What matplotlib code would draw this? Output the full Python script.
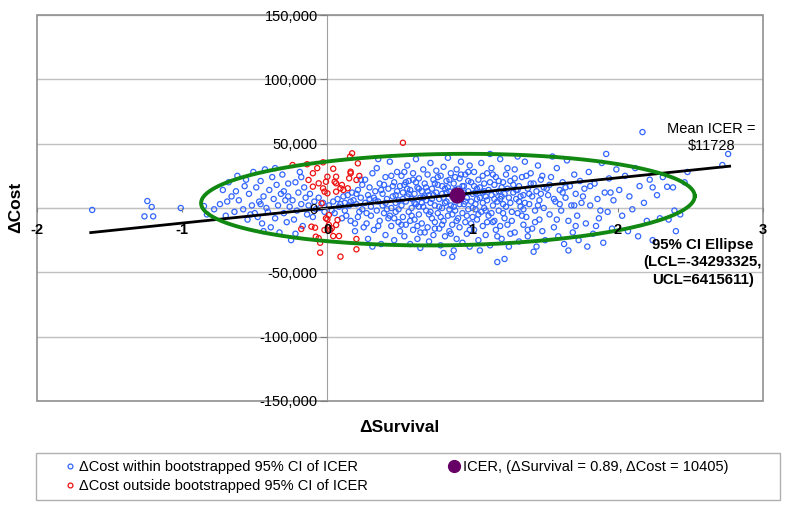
import numpy as np
import matplotlib
matplotlib.use("Agg")
import matplotlib.pyplot as plt
from matplotlib.patches import Rectangle
from matplotlib.lines import Line2D

plt.rcParams['font.family'] = ['Liberation Sans', 'DejaVu Sans']

# bootstrap replicates (delta survival, delta cost in $1000)
blue_far_left = [(-1.62, -1.5), (-1.24, 5.4), (-1.21, 0.8), (-1.26, -6.5), (-1.20, -6.5),
                 (-1.01, 0.0), (-0.83, -5), (-0.85, 1.5)]
blue_m08 = [(-0.78, -1), (-0.74, 3), (-0.72, 14), (-0.70, -6), (-0.68, 20), (-0.66, 9),
            (-0.64, -3), (-0.62, 25), (-0.61, 6), (-0.58, -1), (-0.57, 17), (-0.55, -9),
            (-0.54, 11), (-0.52, 2), (-0.51, 28), (-0.50, -4), (-0.69, 5), (-0.63, 13),
            (-0.56, 22), (-0.53, -5)]
blue_m05 = [(-0.49, 16), (-0.48, -7), (-0.47, 5), (-0.46, 21), (-0.45, -12), (-0.44, 9),
            (-0.43, 30), (-0.42, 0), (-0.41, -3), (-0.40, 14), (-0.39, -15), (-0.38, 24),
            (-0.37, 7), (-0.36, -8), (-0.35, 18), (-0.34, 2), (-0.33, -19), (-0.32, 11),
            (-0.31, 26), (-0.30, -4), (-0.29, 6), (-0.28, -11), (-0.27, 19), (-0.26, 1),
            (-0.25, -25), (-0.44, -18), (-0.36, 31), (-0.30, 13), (-0.46, 3), (-0.27, 9)]
blue_m025 = [(-0.24, 6), (-0.23, -9), (-0.22, 20), (-0.21, -2), (-0.20, 12), (-0.19, 28),
             (-0.18, 3), (-0.17, -14), (-0.16, 16), (-0.15, 8), (-0.14, -5), (-0.13, 2),
             (-0.12, 11), (-0.10, -7), (-0.09, 5), (-0.08, -1), (-0.06, 8), (-0.05, 0),
             (-0.03, 4), (-0.02, -3), (-0.22, -20), (-0.18, 24)]
blue_p0 = [(0.01, 2), (0.03, -2), (0.04, 5), (0.05, -4), (0.07, 7), (0.08, 1), (0.10, -8),
           (0.11, 9), (0.12, 4), (0.13, -6), (0.14, 10), (0.15, 2), (0.16, -10), (0.17, 12),
           (0.18, 6), (0.19, -12), (0.20, 3), (0.21, 14), (0.22, -3), (0.23, 8), (0.24, 18),
           (0.25, -15), (0.19, -18), (0.23, 22), (0.24, -1), (0.16, 5), (0.21, -7),
           (0.12, -2), (0.09, 3), (0.20, 11)]
blue_p025 = [(0.26, 4), (0.26, 22), (0.27, -12), (0.28, 10), (0.28, -24), (0.29, 16),
             (0.30, 1), (0.30, -6), (0.31, 27), (0.32, 8), (0.32, -17), (0.33, 13),
             (0.34, -2), (0.34, 31), (0.35, 5), (0.36, -10), (0.36, 19), (0.37, -28),
             (0.38, 11), (0.38, 2), (0.39, -4), (0.40, 24), (0.40, -21), (0.41, 7),
             (0.42, 15), (0.42, -8), (0.43, 36), (0.44, 0), (0.44, -14), (0.45, 9),
             (0.46, 20), (0.46, -25), (0.47, 4), (0.47, -3), (0.48, 13), (0.48, 28),
             (0.49, -11), (0.49, 6), (0.50, 17), (0.50, -18), (0.31, -30), (0.35, 38)]
blue_p05 = [(0.51, 2), (0.51, 25), (0.52, -7), (0.52, 12), (0.53, -22), (0.53, 18),
            (0.54, 5), (0.54, -13), (0.55, 33), (0.55, 9), (0.56, -3), (0.56, 21),
            (0.57, -28), (0.57, 14), (0.58, 0), (0.58, 7), (0.59, -17), (0.59, 27),
            (0.60, 11), (0.60, -9), (0.61, 3), (0.61, 38), (0.62, -24), (0.62, 16),
            (0.63, -5), (0.63, 23), (0.64, 8), (0.64, -31), (0.65, 13), (0.65, -12),
            (0.66, 1), (0.66, 30), (0.67, -19), (0.67, 19), (0.68, 6), (0.68, -2),
            (0.69, 26), (0.69, -15), (0.70, 10), (0.70, -26), (0.71, 4), (0.71, 35),
            (0.72, -8), (0.72, 15), (0.73, -21), (0.73, 22), (0.74, 2), (0.74, -11),
            (0.75, 12), (0.75, 29)]
blue_p075 = [(0.76, -4), (0.76, 18), (0.77, 7), (0.77, -16), (0.78, 25), (0.78, -29),
             (0.79, 11), (0.79, 0), (0.80, 32), (0.80, -10), (0.81, 15), (0.81, -22),
             (0.82, 5), (0.82, 21), (0.83, -6), (0.83, 39), (0.84, 13), (0.84, -18),
             (0.85, 2), (0.85, 27), (0.86, -13), (0.86, 9), (0.87, -33), (0.87, 19),
             (0.88, -2), (0.88, 14), (0.89, 30), (0.89, -24), (0.90, 6), (0.90, -8),
             (0.91, 23), (0.91, -15), (0.92, 10), (0.92, 36), (0.93, -4), (0.93, -27),
             (0.94, 17), (0.94, 3), (0.95, -11), (0.95, 26), (0.96, 8), (0.96, -20),
             (0.97, 13), (0.97, -1), (0.98, 33), (0.98, -30), (0.99, 5), (0.99, 20),
             (1.00, -7), (1.00, 11), (0.86, -38), (0.80, -35)]
blue_p1 = [(1.01, -17), (1.01, 28), (1.02, 3), (1.03, 15), (1.03, -9), (1.04, 22),
           (1.04, -25), (1.05, 8), (1.06, -3), (1.06, 35), (1.07, 12), (1.07, -14),
           (1.08, 19), (1.08, 0), (1.09, -21), (1.10, 6), (1.10, 27), (1.11, -6),
           (1.11, 14), (1.12, -29), (1.13, 10), (1.13, 31), (1.14, -11), (1.14, 2),
           (1.15, 18), (1.16, -17), (1.16, 24), (1.17, 5), (1.17, -42), (1.18, -2),
           (1.18, 13), (1.19, 38), (1.20, -24), (1.20, 9), (1.21, 20), (1.22, -8),
           (1.22, -39.6), (1.23, 1), (1.23, 26), (1.24, -13), (1.24, 15), (1.25, -30),
           (1.12, 42), (1.05, -33), (1.19, 7)]
blue_p125 = [(1.26, 4), (1.26, 21), (1.27, -10), (1.28, 12), (1.29, -19), (1.29, 30),
             (1.30, 7), (1.31, -4), (1.32, 17), (1.32, -26), (1.33, 1), (1.34, 24),
             (1.35, -13), (1.35, 10), (1.36, 36), (1.37, -7), (1.38, 15), (1.38, -22),
             (1.39, 3), (1.40, 27), (1.41, -16), (1.41, 9), (1.42, 19), (1.43, -2),
             (1.44, -30), (1.44, 13), (1.45, 33), (1.46, -9), (1.46, 6), (1.47, 22),
             (1.48, -18), (1.49, 0), (1.49, 16), (1.50, -25), (1.31, 40), (1.42, -34),
             (1.37, 25)]
blue_p15 = [(1.52, 10), (1.53, -5), (1.54, 24), (1.56, -15), (1.57, 5), (1.58, 31),
            (1.59, -22), (1.60, 14), (1.61, -2), (1.62, 20), (1.63, -28), (1.64, 8),
            (1.65, 37), (1.66, -10), (1.67, 17), (1.68, 2), (1.69, -19), (1.70, 26),
            (1.71, 11), (1.72, -6), (1.73, -25), (1.74, 21), (1.75, 4), (1.55, 40),
            (1.66, -33)]
blue_p175 = [(1.77, 15), (1.78, -12), (1.80, 28), (1.81, 2), (1.83, -20), (1.84, 19),
             (1.86, 7), (1.87, -8), (1.89, 35), (1.90, -27), (1.91, 12), (1.93, -3),
             (1.94, 23), (1.96, -16), (1.97, 6), (1.99, 30), (1.79, -30), (1.92, 42),
             (1.85, -14)]
blue_p2 = [(2.01, 14), (2.03, -6), (2.05, 25), (2.07, -18), (2.08, 9), (2.10, -1),
           (2.12, 31), (2.14, -22), (2.15, 17), (2.17, 59), (2.18, 4), (2.20, -10),
           (2.22, 22), (2.24, -25)]
blue_right = [(2.27, 10), (2.29, -8), (2.31, 24), (2.34, 16.5), (2.38, 16), (2.48, 28),
              (2.24, 16), (2.39, -2), (2.35, -9), (2.43, -5), (2.46, 20), (2.40, -18),
              (2.72, 33.4), (2.76, 42)]
blue_core = [(0.33, 6), (0.37, 14), (0.41, -1), (0.45, 17), (0.52, 7), (0.56, 11), (0.60, 4),
             (0.63, 15), (0.67, 9), (0.71, -3), (0.74, 19), (0.77, 1), (0.80, 8), (0.83, 16),
             (0.86, -5), (0.91, 3), (0.94, 12), (0.97, 21), (1.02, -1), (1.05, 16), (1.09, 9),
             (1.13, -4), (1.16, 12), (1.21, 3), (1.25, 8), (1.30, 14), (1.34, -6), (1.39, 11),
             (0.43, -6), (0.54, 20), (0.58, -6), (0.65, 4), (0.69, 13), (0.78, -7), (0.82, 12),
             (0.88, 6), (0.93, 17), (0.99, -12), (1.03, 7), (1.07, 4), (1.15, -10), (1.20, 16),
             (1.27, -3), (1.36, 4), (0.47, 10), (0.62, -14), (0.72, 7), (0.84, -1), (0.90, 15),
             (0.96, -6), (1.08, 13), (1.18, 21), (1.28, 18), (1.33, 9), (1.45, 2), (1.51, 15),
             (1.56, 7), (1.62, 12), (1.70, 2), (1.76, 9)]
blue_core2 = [(0.29, 7), (0.35, -14), (0.39, 18), (0.44, 25), (0.49, -1), (0.53, 28), (0.57, -10),
              (0.61, 20), (0.64, -19), (0.68, 16), (0.70, -5), (0.73, 10), (0.76, 24), (0.79, -13),
              (0.81, 4), (0.84, 22), (0.87, 1), (0.89, -10), (0.92, 26), (0.95, 5), (0.98, -17),
              (1.01, 17), (1.04, -5), (1.07, 25), (1.10, -11), (1.12, 20), (1.15, 7), (1.19, -14),
              (1.22, 11), (1.26, -20), (1.29, 23), (1.32, 5), (1.35, -1), (1.40, 19), (1.43, -11),
              (1.47, 11), (1.53, 18), (1.58, -9), (1.64, 16), (1.71, -14), (0.40, 4), (0.46, -8),
              (0.55, 15), (0.59, 22), (0.66, 8), (0.74, -16), (0.79, 17), (0.85, -20), (0.91, 9),
              (0.97, 28), (1.02, 12), (1.09, -2), (1.14, 26), (1.21, -4), (1.24, 31), (1.38, -17),
              (0.27, -4), (0.51, -13), (0.63, 1), (0.88, 24), (1.00, 0), (1.17, -22), (1.31, 14),
              (1.48, 25), (1.60, 3), (1.81, 17), (1.88, -2), (1.95, 12)]

red_pts = [(0.17, 42.5), (0.156, 39.9), (0.21, 34.7), (-0.24, 33.4), (-0.14, 34.0),
           (-0.03, 35.5), (0.0, 24.3), (0.06, 24.3), (0.16, 27.0), (0.15, 23.1),
           (0.20, 21.8), (-0.10, 27.0), (-0.13, 21.8), (-0.01, 20.4), (-0.02, 12.7),
           (0.0, 11.4), (-0.06, 19.2), (0.06, 19.2), (0.09, 15.3), (0.06, 12.7),
           (0.11, 14.0), (-0.04, 3.6), (0.01, -13.2), (-0.02, -17.1), (0.02, -17.1),
           (0.06, -13.2), (0.08, -21.8), (0.04, -21.8), (-0.18, -16.3), (-0.11, -14.5),
           (-0.06, -23.5), (-0.05, -27.0), (0.0, -8.8), (0.07, -9.3), (0.20, -24.1),
           (0.09, -37.8), (0.01, -5.4), (0.52, 50.7), (0.20, -32.1), (-0.05, -34.7),
           (-0.08, -22.3), (-0.085, -15.3), (0.03, -15.8), (0.22, 24.9), (-0.03, 15.3),
           (0.10, 17.9), (0.16, 28.2), (0.05, 20.4), (-0.10, 16.6), (-0.01, -8.0),
           (0.14, 15.3), (0.04, 30.5), (-0.07, 31.0)]

icer_surv = 0.89
icer_cost = 10405
mean_icer = 11728
line_x = [-1.63, 2.77]

# 95% CI ellipse (center, half widths, tilt in $ per unit survival)
ell_cx, ell_cy = 0.83, 6500
ell_a, ell_b = 1.70, 35500
ell_tilt = 1600

x_ticks = [-2, -1, 0, 1, 2, 3]
y_ticks = [-150000, -100000, -50000, 0, 50000, 100000, 150000]

blue = np.array(blue_far_left + blue_m08 + blue_m05 + blue_m025 + blue_p0 + blue_p025 +
                blue_p05 + blue_p075 + blue_p1 + blue_p125 + blue_p15 + blue_p175 +
                blue_p2 + blue_right + blue_core + blue_core2)
red = np.array(red_pts)

fig = plt.figure(figsize=(7.88, 5.08), dpi=100)
ax = fig.add_axes([37 / 788, 1 - 401 / 508, 726 / 788, 386 / 508])
ax.set_xlim(-2, 3)
ax.set_ylim(-150000, 150000)

for y in y_ticks:
    ax.axhline(y, color='#c0c0c0', lw=1, zorder=0)

ax.scatter(blue[:, 0], blue[:, 1] * 1000, s=14, facecolors='none', edgecolors='#3366ff',
           linewidths=0.9, zorder=2)
ax.scatter(red[:, 0], red[:, 1] * 1000, s=14, facecolors='none', edgecolors='#ee1111',
           linewidths=0.9, zorder=2)

ax.plot(line_x, [mean_icer * v for v in line_x], color='black', lw=2, zorder=3)

t = np.linspace(0, 2 * np.pi, 300)
ex = ell_cx + ell_a * np.cos(t)
ey = ell_cy + ell_b * np.sin(t) + ell_tilt * ell_a * np.cos(t)
ax.plot(ex, ey, color='#118811', lw=2.8, zorder=4)

ax.scatter([icer_surv], [icer_cost], s=110, color='#660066', zorder=5)

# axes crossing at zero, frame around plot area
for s in ['top', 'right']:
    ax.spines[s].set_visible(False)
ax.spines['left'].set_position(('data', 0))
ax.spines['bottom'].set_position(('data', 0))
ax.spines['left'].set_color('#a0a0a0')
ax.spines['bottom'].set_color('#c0c0c0')
ax.spines['left'].set_zorder(1)
ax.spines['bottom'].set_zorder(1)
ax.add_patch(Rectangle((0, 0), 1, 1, transform=ax.transAxes, fill=False,
                       edgecolor='#909090', lw=1.2, clip_on=False, zorder=6))

ax.set_xticks(x_ticks)
ax.set_xticklabels([str(v) for v in x_ticks], fontweight='bold')
ax.set_yticks(y_ticks)
ax.set_yticklabels(['{:,}'.format(v) for v in y_ticks])
ax.tick_params(axis='x', length=3, pad=8, labelsize=10.5, color='#808080')
ax.tick_params(axis='y', length=5, pad=2, labelsize=10.5, color='#808080')
ax.xaxis.set_zorder(7)
ax.yaxis.set_zorder(7)

ax.text(2.645, 54800, 'Mean ICER =\n$11728', ha='center', va='center', fontsize=10.5)
ax.text(2.586, -42300, '95% CI Ellipse\n(LCL=-34293325,\nUCL=6415611)', ha='center',
        va='center', fontsize=10.8, fontweight='bold', linespacing=1.3)

fig.text(16 / 788, 1 - 207.5 / 508, '\u0394Cost', rotation=90, ha='center', va='center',
         fontsize=12.5, fontweight='bold')
fig.text(399.5 / 788, 1 - 427 / 508, '\u0394Survival', ha='center', va='center',
         fontsize=12.5, fontweight='bold')

# legend in a box below the plot
fig.patches.append(Rectangle((36 / 788, 1 - 500 / 508), 744 / 788, 47 / 508,
                             transform=fig.transFigure, fill=False, edgecolor='#b0b0b0', lw=1))
handles = [
    Line2D([], [], ls='none', marker='o', ms=3.5, mfc='none', mec='#3366ff', mew=0.9),
    Line2D([], [], ls='none', marker='o', ms=3.5, mfc='none', mec='#ee1111', mew=0.9),
    Line2D([], [], ls='none', marker='o', ms=8.5, color='#660066'),
]
labels = ['\u0394Cost within bootstrapped 95% CI of ICER',
          '\u0394Cost outside bootstrapped 95% CI of ICER',
          'ICER, (\u0394Survival = 0.89, \u0394Cost = 10405)']
fig.legend(handles, labels, ncol=2, loc='center', frameon=False,
           bbox_to_anchor=(397 / 788, 1 - 476.5 / 508), fontsize=10.5,
           handlelength=0.6, handletextpad=0.3, columnspacing=5.6, labelspacing=0.35)

fig.savefig('out.png', dpi=100)
